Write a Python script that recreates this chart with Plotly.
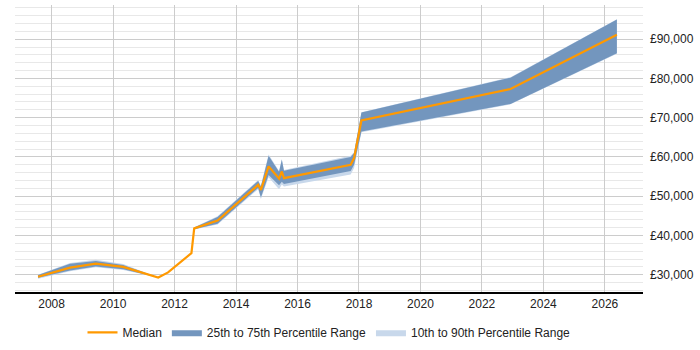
import plotly.graph_objects as go

years = [2007.56, 2008.6, 2009.44, 2010.33, 2011.47, 2011.79, 2012.55, 2012.64, 2013.4, 2014.72,
         2014.81, 2015.06, 2015.4, 2015.49, 2015.56, 2017.73, 2017.84, 2018.08, 2022.93, 2026.39]
median = [29500, 31800, 32800, 32000, 29300, 30600, 35500, 41800, 43800, 52900,
          51600, 57600, 54500, 56300, 54600, 58000, 59700, 69300, 77300, 91100]
p75 = [29900, 32800, 33500, 32500, 29300, 30600, 35500, 42000, 44700, 53900,
       52500, 60300, 56200, 59300, 56500, 60000, 61000, 71300, 80200, 95000]
p25 = [29200, 31100, 32100, 31400, 29300, 30600, 35500, 41600, 43000, 52100,
       49700, 55400, 52800, 53700, 53100, 56400, 58000, 66500, 73500, 86400]
p90 = [30000, 33000, 33800, 32700, 29300, 30600, 35500, 42100, 44900, 54100,
       52700, 60600, 56400, 59500, 56700, 60300, 61200, 71400, 80300, 95100]
p10 = [29000, 30900, 31900, 31200, 29300, 30600, 35500, 41500, 42800, 51800,
       49300, 54800, 51800, 53000, 52500, 55500, 57200, 66300, 73400, 86300]

tick_years = [2008, 2010, 2012, 2014, 2016, 2018, 2020, 2022, 2024, 2026]
tick_vals_y = [30000, 40000, 50000, 60000, 70000, 80000, 90000]
tick_text_y = ["£30,000", "£40,000", "£50,000", "£60,000", "£70,000", "£80,000", "£90,000"]

c_outer = "rgb(200,216,235)"
c_inner = "rgb(115,150,190)"
c_med = "#FF9900"

fig = go.Figure()
fig.add_trace(go.Scatter(x=years, y=p10, mode="lines", line=dict(width=0, color=c_outer),
                         showlegend=False, hoverinfo="skip"))
fig.add_trace(go.Scatter(x=years, y=p90, mode="lines", line=dict(width=0, color=c_outer),
                         fill="tonexty", fillcolor=c_outer, name="10th to 90th Percentile Range",
                         legendrank=3))
fig.add_trace(go.Scatter(x=years, y=p25, mode="lines", line=dict(width=0, color=c_inner),
                         showlegend=False, hoverinfo="skip"))
fig.add_trace(go.Scatter(x=years, y=p75, mode="lines", line=dict(width=0, color=c_inner),
                         fill="tonexty", fillcolor=c_inner, name="25th to 75th Percentile Range",
                         legendrank=2))
fig.add_trace(go.Scatter(x=years, y=median, mode="lines", line=dict(width=2.2, color=c_med),
                         name="Median", legendrank=1))

fig.update_layout(
    width=700, height=350,
    margin=dict(l=15, r=57, t=5, b=58, autoexpand=False),
    paper_bgcolor="white", plot_bgcolor="white",
    font=dict(family="Liberation Sans, Arial, sans-serif", size=12, color="#222"),
    legend=dict(orientation="h", x=0.5, xanchor="center", y=-0.09, yanchor="top",
                font=dict(size=12), itemwidth=30, traceorder="normal"),
    showlegend=True,
    xaxis=dict(range=[2006.81, 2027.24], tickvals=tick_years,
               ticktext=[str(t) for t in tick_years],
               showgrid=True, gridcolor="#cccccc", gridwidth=1,
               showline=True, linecolor="black", linewidth=1.5, ticks="",
               zeroline=False, fixedrange=True, automargin=False),
    yaxis=dict(range=[25600, 98700], side="right", tickvals=tick_vals_y, ticktext=tick_text_y,
               showgrid=True, gridcolor="#cccccc", gridwidth=1,
               minor=dict(dtick=2000, tick0=0, showgrid=True, gridcolor="#e8e8e8", gridwidth=1),
               showline=False, zeroline=False, ticks="", ticklabelstandoff=6,
               fixedrange=True, automargin=False),
)

fig.write_html("out.html")
